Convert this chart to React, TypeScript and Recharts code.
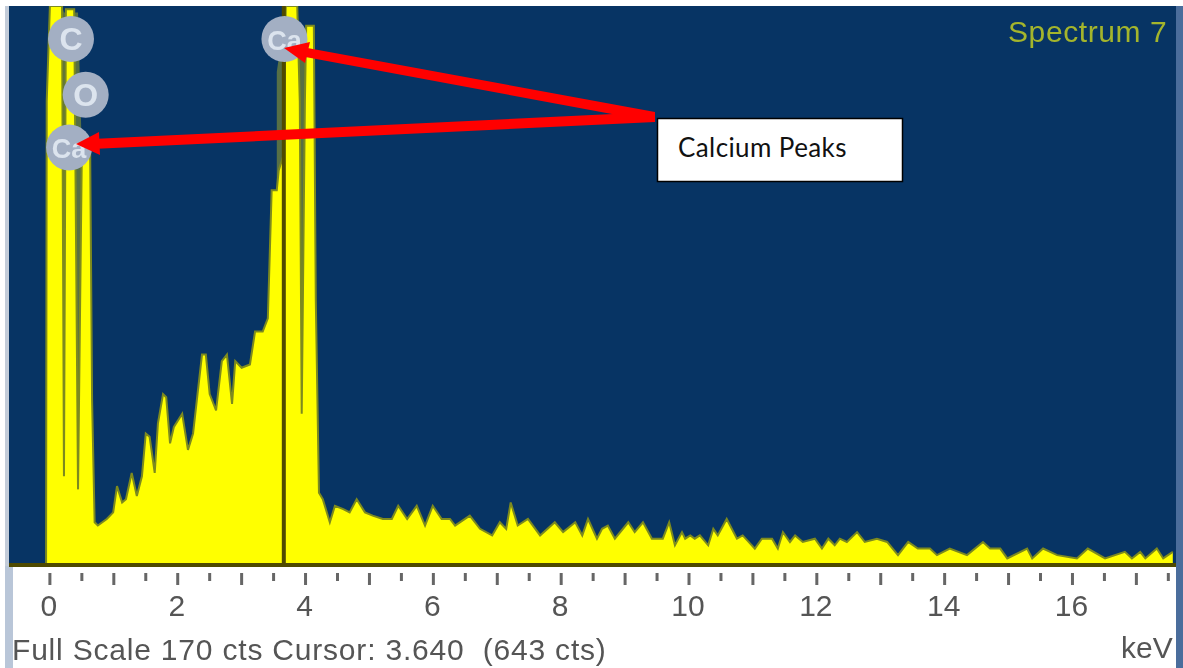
import React from 'react';
import { AreaChart, Area, XAxis, YAxis, ReferenceLine, ReferenceDot } from 'recharts';

// Spectrum: energy in keV and counts (full scale 170)
const kev = [
  -0.06, -0.05, 0.0, 0.19, 0.22, 0.25, 0.38, 0.44, 0.5, 0.63, 0.66, 0.7, 0.75, 0.89, 0.99, 1.05, 1.13, 1.19, 1.28, 1.36,
  1.44, 1.5, 1.56, 1.64, 1.69, 1.77, 1.82, 1.88, 1.94, 2.07, 2.16, 2.24, 2.38, 2.44, 2.5, 2.6, 2.69, 2.77, 2.85, 2.9,
  3.0, 3.13, 3.21, 3.33, 3.41, 3.47, 3.55, 3.58, 3.66, 3.69, 3.87, 3.91, 3.94, 3.99, 4.01, 4.13, 4.16, 4.21, 4.27, 4.38,
  4.46, 4.59, 4.69, 4.8, 4.93, 5.05, 5.21, 5.35, 5.45, 5.59, 5.74, 5.87, 5.99, 6.13, 6.26, 6.34, 6.57, 6.73, 6.92, 7.04,
  7.14, 7.21, 7.32, 7.48, 7.67, 7.9, 8.03, 8.22, 8.33, 8.42, 8.56, 8.64, 8.73, 8.84, 9.05, 9.15, 9.28, 9.42, 9.59, 9.69,
  9.78, 9.89, 9.94, 10.02, 10.09, 10.17, 10.3, 10.38, 10.45, 10.59, 10.75, 10.84, 11.03, 11.14, 11.3, 11.39, 11.47, 11.58, 11.66, 11.78,
  11.97, 12.08, 12.18, 12.28, 12.36, 12.47, 12.63, 12.75, 12.94, 13.1, 13.27, 13.43, 13.58, 13.77, 13.88, 14.08, 14.35, 14.6, 14.71, 14.87,
  14.98, 15.29, 15.37, 15.54, 15.76, 16.07, 16.24, 16.51, 16.82, 16.93, 17.06, 17.14, 17.32, 17.42, 17.57,
];

const counts = [
  0, 141, 170, 170, 27, 169, 169, 23, 126, 126, 50, 13, 12, 14, 16, 24, 19, 20, 28, 21,
  27, 40, 39, 28, 43, 52, 51, 37, 42, 46, 35, 40, 64, 64, 52, 47, 62, 64, 49, 62,
  60, 61, 71, 71, 75, 114, 114, 120, 125, 170, 170, 141, 46, 141, 164, 164, 81, 22, 20, 13,
  18, 17, 16, 20, 16, 15, 14, 14, 18, 14, 18, 12, 18, 14, 14, 12, 15, 11, 9, 13,
  11, 19, 12, 14, 9, 13, 10, 13, 9, 14, 8, 11, 12, 8, 13, 10, 13, 8, 8, 13,
  6, 10, 8, 9, 8, 9, 6, 11, 9, 14, 8, 9, 5, 8, 8, 5, 10, 7, 9, 7,
  8, 5, 8, 6, 8, 7, 10, 7, 8, 7, 3, 7, 5, 5, 3, 5, 3, 7, 5, 5,
  2, 5, 2, 5, 3, 2, 5, 2, 4, 2, 4, 2, 5, 2, 4,
];

// Dim olive smear behind the clipped peaks, by kev
const smearKev = [0.0, 0.19, 0.22, 0.25, 0.38, 0.44, 0.5, 0.63, 3.55, 3.58, 3.66, 3.69, 3.87, 3.91, 3.94, 3.99, 4.01, 4.13];
const smearCounts = [170, 170, 168, 168, 168, 168, 126, 126, 150, 154, 157, 170, 170, 160, 160, 160, 164, 164];

const axisTicks = [
  0, 0.5, 1, 1.5, 2, 2.5, 3, 3.5, 4, 4.5, 5, 5.5, 6, 6.5, 7, 7.5, 8, 8.5, 9, 9.5, 10, 10.5, 11, 11.5, 12, 12.5, 13, 13.5,
  14, 14.5, 15, 15.5, 16, 16.5, 17, 17.5,
];

// Element markers, placed in chart units
const markerLabels = ['C', 'O', 'Ca', 'Ca'];
const markerKev = [0.33, 0.56, 0.3, 3.67];
const markerCounts = [160, 143, 127, 160];

const cursorKev = 3.66;

const chartData = kev.map((k, i) => {
  const s = smearKev.indexOf(k);
  return { kev: k, cts: counts[i], smear: s >= 0 ? smearCounts[s] : null };
});

const AxisTick = (props: any) => {
  const { x, y, payload } = props;
  const v = payload.value;
  const major = Number.isInteger(v);
  return (
    <g>
      <line x1={x} x2={x} y1={y} y2={y + (major ? 12 : 8)} stroke="#666" strokeWidth={3} />
      {major && v % 2 === 0 && (
        <text x={x - 1} y={y + 43} textAnchor="middle" fontFamily="Liberation Sans" fontSize={30} fill="#555">
          {v}
        </text>
      )}
    </g>
  );
};

const MarkerLabel = (props: any) => {
  const { viewBox, value } = props;
  const cx = viewBox.x + viewBox.width / 2;
  const cy = viewBox.y + viewBox.height / 2;
  return (
    <text
      x={cx}
      y={cy + 11}
      textAnchor="middle"
      fontFamily="Liberation Sans"
      fontSize={value === 'Ca' ? 27 : 32}
      fontWeight="bold"
      fill="#dce4ee"
    >
      {value}
    </text>
  );
};

const softText = { filter: 'blur(0.6px)' };

const Annotations = () => (
  <svg width={1183} height={668} style={{ position: 'absolute', left: 0, top: 0 }}>
    <polygon points="655,112 302,47 300,56 655,122" fill="#ff0000" />
    <polygon points="284,48 310,42 305,63" fill="#ff0000" />
    <polygon points="655,112 92,139 92,149 655,122" fill="#ff0000" />
    <polygon points="76,144 99,132 100,155" fill="#ff0000" />
    <rect x={657.5} y={118.5} width={245} height={63} fill="#fff" stroke="#000" strokeWidth={1.5} />
    <text x={678} y={157} fontFamily="Lato" fontSize={26} letterSpacing={0.4} fill="#111">Calcium Peaks</text>
    <text x={1008} y={42} fontFamily="Liberation Sans" fontSize={30} letterSpacing={0.6} fill="#a4b52c" style={softText}>
      Spectrum 7
    </text>
    <text
      x={12}
      y={660}
      fontFamily="Liberation Sans"
      fontSize={30}
      letterSpacing={0.8}
      fill="#555"
      xmlSpace="preserve"
      style={softText}
    >
      Full Scale 170 cts Cursor: 3.640  (643 cts)
    </text>
    <text x={1121} y={658} fontFamily="Liberation Sans" fontSize={30} fill="#555" style={softText}>
      keV
    </text>
  </svg>
);

export default function App() {
  return (
    <div style={{ position: 'absolute', left: 0, top: 0, width: 1183, height: 668, background: '#fff', overflow: 'hidden' }}>
      <div style={{ position: 'absolute', left: 9, top: 6, width: 1167, height: 560, background: '#073464' }} />
      <div style={{ position: 'absolute', left: 5, top: 6, width: 4, height: 560, background: '#c3ccd9' }} />
      <div style={{ position: 'absolute', left: 5, top: 566, width: 8, height: 102, background: '#b9c6d8' }} />
      <div style={{ position: 'absolute', left: 1176, top: 6, width: 7, height: 662, background: '#4a6d9c' }} />
      <AreaChart
        width={1183}
        height={668}
        data={chartData}
        margin={{ top: 6, right: 7, bottom: 0, left: 9 }}
        style={{ position: 'absolute', left: 0, top: 0, filter: 'blur(0.6px)' }}
      >
        <XAxis
          dataKey="kev"
          type="number"
          domain={[-0.64, 17.62]}
          ticks={axisTicks}
          interval={0}
          height={103}
          axisLine={false}
          tickLine={false}
          tick={<AxisTick />}
          allowDataOverflow
        />
        <YAxis hide domain={[0, 170]} allowDataOverflow />
        <Area
          dataKey="smear"
          type="linear"
          stroke="none"
          fill="#566f45"
          fillOpacity={1}
          isAnimationActive={false}
          dot={false}
          activeDot={false}
        />
        <Area
          dataKey="cts"
          type="linear"
          stroke="#7d8a1e"
          strokeWidth={2}
          fill="#ffff00"
          fillOpacity={1}
          isAnimationActive={false}
          dot={false}
          activeDot={false}
        />
        {markerLabels.map((m, i) => (
          <ReferenceDot
            key={i}
            x={markerKev[i]}
            y={markerCounts[i]}
            r={23}
            fill="#a3afc3"
            stroke="none"
            label={<MarkerLabel value={m} />}
          />
        ))}
        <ReferenceLine y={0} stroke="#4f4a00" strokeWidth={4} />
        <ReferenceLine x={cursorKev} stroke="#4f4a00" strokeWidth={4} />
      </AreaChart>
      <Annotations />
    </div>
  );
}
